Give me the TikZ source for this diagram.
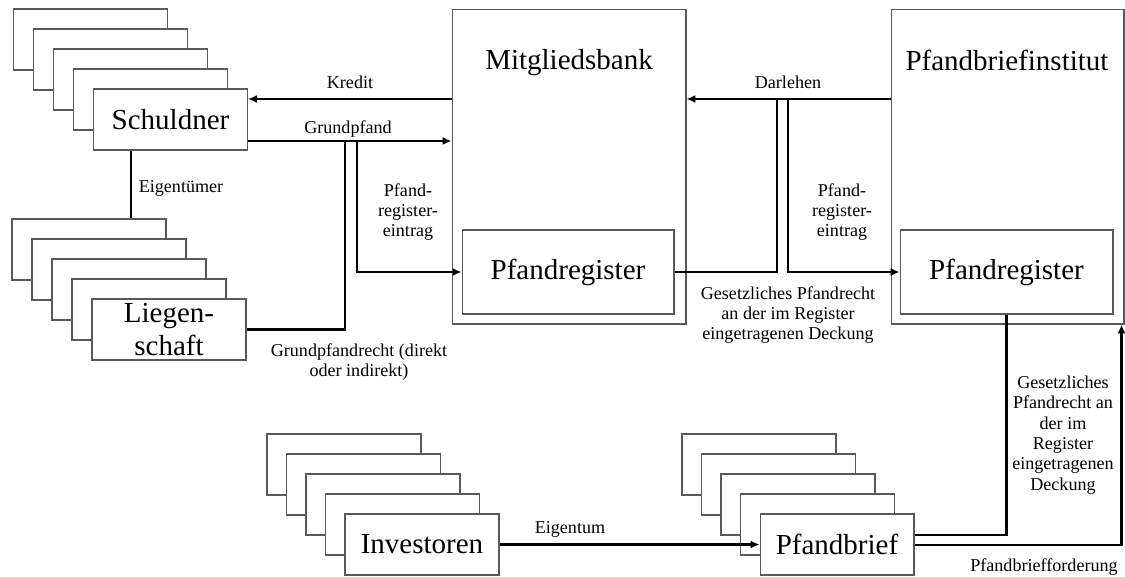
\documentclass[tikz,border=0pt]{standalone}
\usepackage{fontspec}
\setmainfont{Liberation Serif}
\usetikzlibrary{arrows.meta,positioning,calc}

\tikzset{
  card/.style={draw=black!65, line width=0.6pt, fill=white, minimum width=3.08cm, minimum height=1.22cm,
    inner sep=0pt, align=center, font=\fontsize{16.5}{19.3}\selectfont},
  bank/.style={draw=black!65, line width=0.6pt, minimum width=4.68cm, minimum height=6.3cm, inner sep=0pt},
  regbox/.style={draw=black!65, line width=0.6pt, minimum width=4.24cm, minimum height=1.68cm, inner sep=0pt,
    font=\fontsize{16.5}{19.3}\selectfont},
  title/.style={anchor=base, inner sep=0pt, font=\fontsize{16.5}{19.3}\selectfont},
  lbl/.style={inner sep=0pt, align=center, font=\fontsize{10.3}{11.6}\selectfont},
  flow/.style={line width=1.2pt},
  arr/.style={flow, -{Latex[length=5pt,width=4.5pt]}},
}

\begin{document}
\begin{tikzpicture}[x=0.02cm, y=-0.02cm]
\useasboundingbox (0,0) rectangle (1125,576);

% stacked cards behind the front ones
\foreach \k in {4,3,2,1} {
  \node[card] (sch\k) at ($(170.5,119.5)+(-20*\k,-20*\k)$) {};
  \node[card] (lie\k) at ($(169,329.5)+(-20*\k,-20*\k)$) {};
  \node[card] (inv\k) at ($(422,544.5)+(-19.5*\k,-20*\k)$) {};
  \node[card] (pb\k) at ($(837,544.5)+(-19.5*\k,-20*\k)$) {};
}
\node[card] (sch) at (170.5,119.5) {Schuldner};
\node[card] (lie) at (169,329.5) {Liegen-\\schaft};
\node[card] (inv) at (422,544.5) {Investoren};
\node[card] (pb) at (837,544.5) {Pfandbrief};

% banks
\node[bank] (mb) at (569,166.5) {};
\node[title] at (569,69.5) {Mitgliedsbank};
\node[regbox] (mbreg) at (568,272) {Pfandregister};
\node[bank, minimum width=4.66cm] (pi) at (1007.5,166.5) {};
\node[title] at (1007,70) {Pfandbriefinstitut};
\node[regbox, minimum width=4.26cm] (pireg) at (1006.5,272) {Pfandregister};

% levels and junctions
\coordinate (yK) at (0,99);
\coordinate (yG) at (0,141);
\coordinate (yL) at (0,535);
\coordinate (yF) at (0,545);
\coordinate (xE) at (131,0);
\coordinate (jA) at (345,141);
\coordinate (jB) at (357,141);
\coordinate (jC) at (777,99);
\coordinate (jD) at (788,99);
\coordinate (pfo) at ($(pi.south east)+(-3,0)$);

% connectors
\draw[flow] (sch.south -| xE) -- (lie4.north -| xE);
\draw[arr] (mb.west |- yK) -- (sch.east |- yK);
\draw[arr] (sch.east |- yG) -- (mb.west |- yG);
\draw[flow] (jA) |- (lie.east);
\draw[arr] (jB) |- (mbreg.west);
\draw[arr] (pi.west |- yK) -- (mb.east |- yK);
\draw[flow] (jC) |- (mbreg.east);
\draw[arr] (jD) |- (pireg.west);
\draw[arr] (inv.east) -- (pb.west);
\draw[flow] (pb.east |- yL) -| (pireg.south);
\draw[arr] (pb.east |- yF) -| (pfo);

% labels
\node[lbl, anchor=base] at (350,88.5) {Kredit};
\node[lbl, anchor=base] at (348,133) {Grundpfand};
\node[lbl, anchor=base] at (788,88) {Darlehen};
\node[lbl, anchor=base] at (181,192) {Eigentümer};
\node[lbl] at (408,212) {Pfand-\\register-\\eintrag};
\node[lbl] at (842,212) {Pfand-\\register-\\eintrag};
\node[lbl] at (359,362) {Grundpfandrecht (direkt\\oder indirekt)};
\node[lbl] at (788,315) {Gesetzliches Pfandrecht\\an der im Register\\eingetragenen Deckung};
\node[lbl] at (1063,435) {Gesetzliches\\Pfandrecht an\\der im\\Register\\eingetragenen\\Deckung};
\node[lbl, anchor=base] at (570,533) {Eigentum};
\node[lbl, anchor=base] at (1044,571) {Pfandbriefforderung};
\end{tikzpicture}
\end{document}
